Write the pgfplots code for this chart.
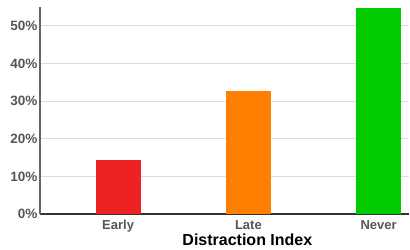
\documentclass[border=0pt]{standalone}
\usepackage{fontspec}
\setmainfont{Liberation Sans}
\usepackage{pgfplots}
\pgfplotsset{compat=1.18}
\definecolor{cred}{HTML}{EE2222}
\definecolor{corange}{HTML}{FF8000}
\definecolor{cgreen}{HTML}{00CC00}
\definecolor{tickgray}{HTML}{555555}
\definecolor{gridgray}{HTML}{DDDDDD}
\begin{document}
\begin{tikzpicture}
\begin{axis}[
  name=ax,
  scale only axis,
  width=369pt, height=207pt,
  xmin=-0.6, xmax=2.233,
  ymin=0, ymax=55,
  axis x line*=bottom,
  axis y line*=left,
  x axis line style={line width=1.3pt, color=black!80},
  y axis line style={line width=2pt, color=black!60},
  xtick={0,1,2},
  xticklabels={Early,Late,Never},
  ytick={0,10,20,30,40,50},
  yticklabels={0\%,10\%,20\%,30\%,40\%,50\%},
  major tick length=0pt,
  ymajorgrids,
  grid style={gridgray, line width=0.8pt},
  tick label style={font=\fontsize{13}{13}\selectfont\bfseries, text=tickgray},
  yticklabel style={font=\fontsize{13.5}{13.5}\selectfont\bfseries, xshift=1pt},
  xticklabel style={yshift=-3pt},
  /pgf/number format/assume math mode=true,
  xlabel={Distraction Index},
  xlabel style={font=\fontsize{16}{16}\selectfont\bfseries, text=black, at={(axis description cs:0.562,0)}, anchor=north, yshift=-16pt},
  ybar, bar width=45pt, bar shift=0pt,
  clip=false,
]
\addplot[fill=cred, draw=none] coordinates {(0,14.4)};
\addplot[fill=corange, draw=none] coordinates {(1,32.7)};
\addplot[fill=cgreen, draw=none] coordinates {(2,54.7)};
\end{axis}
\pgfresetboundingbox
\path[use as bounding box] ([xshift=-40pt,yshift=-36pt]ax.south west) rectangle ([xshift=1pt,yshift=7pt]ax.north east);
\end{tikzpicture}
\end{document}
